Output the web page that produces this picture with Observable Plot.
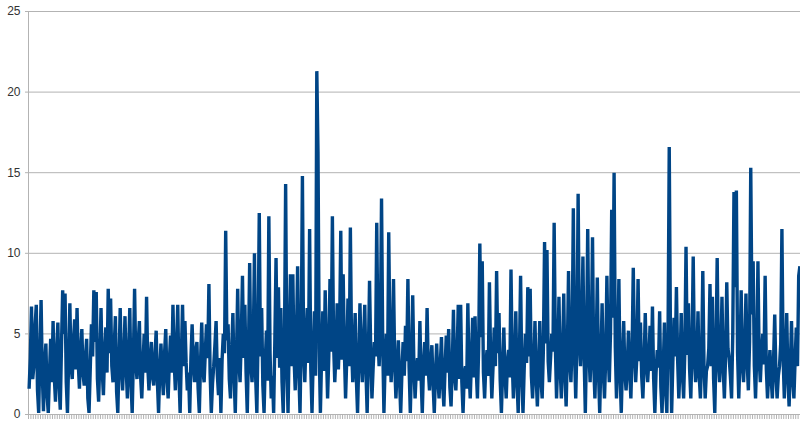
<!DOCTYPE html>
<html>
<head>
<meta charset="utf-8">
<script src="https://cdn.jsdelivr.net/npm/d3@7"></script>
<script src="https://cdn.jsdelivr.net/npm/@observablehq/plot@0.6"></script>
<style>
  html, body { margin: 0; padding: 0; background: #fff; }
  #chart { width: 800px; height: 421px; }
</style>
</head>
<body>
<div id="chart"></div>
<script>
// Series values (one value per category, left to right)
const values = [
  1.6, 3.5, 6.7, 2.2, 3.0, 5.5, 6.8, 1.5, 0.1, 3.8, 7.1, 2.5, 0.2, 3.2, 4.4, 1.2, 0.1, 2.6, 4.7, 2.0,
  5.8, 2.4, 0.8, 3.9, 5.7, 1.8, 0.3, 4.2, 7.7, 5.0, 7.5, 2.0, 0.1, 3.4, 6.9, 3.0, 2.2, 4.5, 5.9, 2.8,
  6.6, 3.2, 1.6, 4.0, 5.3, 2.5, 1.8, 3.5, 4.7, 1.0, 0.1, 2.8, 5.6, 3.6, 7.7, 4.5, 7.6, 2.2, 0.8, 3.4,
  6.6, 2.7, 1.2, 3.9, 5.4, 2.6, 7.8, 3.8, 7.2, 3.0, 2.0, 4.2, 6.1, 1.4, 0.1, 3.3, 6.6, 2.9, 1.5, 3.6,
  6.1, 2.8, 1.0, 3.7, 6.6, 2.0, 0.1, 3.5, 7.8, 3.2, 2.2, 4.4, 5.8, 2.4, 1.0, 3.1, 5.0, 2.6, 7.3, 3.0,
  1.5, 3.4, 4.5, 2.3, 1.8, 3.6, 5.2, 2.1, 0.1, 2.7, 4.4, 2.5, 1.2, 3.8, 5.3, 2.2, 1.0, 3.3, 4.9, 2.6,
  6.8, 3.4, 1.5, 4.1, 6.8, 2.4, 0.1, 3.6, 6.8, 3.0, 5.8, 3.2, 1.5, 2.6, 0.1, 3.5, 5.6, 3.1, 2.0, 4.0,
  4.5, 1.6, 0.1, 3.2, 5.7, 2.8, 2.0, 3.9, 5.6, 3.5, 8.1, 2.6, 0.1, 1.9, 3.0, 4.3, 5.8, 2.5, 1.2, 3.5,
  0.1, 3.4, 5.0, 3.8, 11.4, 4.6, 5.6, 2.2, 1.0, 3.9, 6.3, 2.4, 0.1, 3.6, 7.8, 3.3, 2.0, 4.8, 8.6, 3.5,
  6.8, 2.6, 0.1, 4.0, 9.4, 3.1, 2.0, 4.4, 10.0, 2.3, 0.1, 4.9, 12.5, 3.6, 6.6, 1.8, 0.1, 3.3, 5.2, 2.1,
  12.3, 3.8, 1.0, 2.4, 0.1, 4.6, 9.7, 3.5, 7.9, 2.9, 6.6, 2.0, 0.1, 4.2, 14.3, 3.4, 0.1, 4.6, 8.7, 3.0,
  8.7, 3.6, 1.5, 4.5, 9.2, 2.6, 0.1, 4.8, 14.8, 3.9, 2.0, 4.7, 6.6, 3.2, 11.5, 2.8, 0.1, 3.5, 6.4, 2.4,
  21.3, 16.3, 4.1, 0.1, 3.6, 6.4, 2.7, 7.7, 4.0, 1.0, 3.6, 8.4, 3.9, 12.3, 4.4, 2.0, 3.8, 6.9, 2.8, 5.0,
  11.4, 3.4, 8.7, 3.9, 1.0, 3.5, 7.2, 3.0, 11.6, 4.2, 2.0, 4.0, 6.3, 2.2, 0.1, 3.3, 6.9, 3.7, 2.0, 4.5,
  6.8, 2.7, 0.1, 3.6, 8.3, 3.8, 1.0, 2.9, 4.5, 3.6, 11.9, 4.7, 3.0, 5.1, 13.4, 4.3, 0.1, 3.2, 5.0, 2.4,
  11.3, 4.6, 2.0, 3.9, 8.4, 3.1, 1.0, 2.8, 4.6, 2.2, 0.1, 2.6, 4.5, 2.4, 5.5, 3.3, 8.4, 2.9, 0.1, 3.1,
  7.4, 3.0, 1.0, 2.7, 3.5, 2.1, 5.8, 2.3, 0.1, 3.0, 4.5, 2.4, 6.6, 2.8, 1.5, 3.2, 4.3, 1.9, 0.1, 2.5,
  4.4, 2.2, 1.0, 3.1, 4.8, 1.8, 0.5, 2.9, 4.9, 2.6, 5.3, 1.7, 0.5, 3.0, 6.5, 2.4, 1.5, 3.6, 6.8, 2.2,
  6.8, 2.0, 0.1, 2.5, 3.0, 1.6, 6.9, 2.7, 1.0, 3.4, 6.0, 2.3, 6.1, 2.8, 1.0, 4.1, 10.6, 4.8, 9.5, 2.6,
  1.0, 3.1, 4.0, 2.4, 8.2, 3.5, 1.0, 2.9, 5.4, 3.0, 8.9, 3.8, 6.3, 2.1, 0.1, 2.7, 5.4, 2.5, 1.0, 3.2,
  4.0, 2.3, 9.0, 3.4, 1.0, 3.0, 6.4, 2.1, 0.1, 3.5, 8.6, 2.6, 0.1, 2.8, 5.0, 3.2, 7.9, 3.6, 7.8, 2.4,
  1.0, 3.0, 5.8, 2.3, 0.5, 2.8, 5.8, 2.2, 1.0, 4.0, 10.7, 4.4, 10.2, 3.3, 2.0, 3.5, 5.0, 3.9, 11.9, 4.3,
  1.0, 3.4, 7.3, 2.9, 1.0, 3.6, 7.5, 2.5, 0.5, 3.9, 8.9, 3.3, 2.0, 4.6, 12.8, 3.8, 1.0, 4.4, 13.7, 4.9,
  3.0, 5.2, 9.8, 3.6, 0.1, 4.3, 11.5, 4.0, 2.0, 4.7, 11.0, 3.1, 1.0, 3.8, 8.5, 2.6, 0.1, 3.4, 6.9, 2.7,
  1.0, 3.5, 8.6, 3.9, 2.0, 5.1, 12.7, 6.0, 15.0, 4.2, 1.0, 3.9, 8.4, 2.4, 0.1, 3.3, 5.8, 2.6, 1.5, 3.0,
  5.2, 2.6, 1.0, 3.8, 9.1, 4.0, 2.0, 3.6, 8.4, 3.3, 5.7, 2.4, 1.0, 3.1, 6.3, 3.2, 2.0, 3.4, 5.5, 2.7,
  6.7, 2.2, 0.1, 2.6, 4.0, 2.9, 6.4, 1.7, 0.1, 2.9, 5.7, 1.5, 0.1, 4.8, 16.6, 5.0, 0.1, 3.2, 6.0, 3.6,
  7.9, 3.4, 1.0, 3.0, 6.3, 2.6, 1.0, 3.9, 10.4, 3.7, 6.9, 2.8, 1.0, 4.1, 9.8, 3.6, 2.0, 3.3, 6.4, 2.4,
  1.0, 3.5, 8.9, 3.1, 1.0, 2.7, 3.0, 4.1, 8.1, 3.0, 7.3, 2.2, 0.1, 4.0, 9.7, 3.4, 2.0, 3.8, 7.3, 2.9,
  1.0, 3.6, 8.2, 4.1, 3.5, 2.4, 1.0, 5.0, 13.8, 7.9, 13.9, 3.8, 1.0, 3.5, 7.7, 3.2, 2.0, 4.0, 7.5, 3.3,
  1.5, 4.5, 15.3, 6.2, 9.5, 3.0, 1.0, 3.7, 9.5, 3.5, 2.0, 3.9, 5.0, 3.1, 8.6, 2.8, 1.0, 2.6, 4.0, 2.3,
  1.0, 3.3, 6.2, 2.5, 1.0, 2.4, 3.0, 4.4, 11.5, 3.6, 1.0, 3.5, 6.3, 2.3, 0.5, 2.9, 5.8, 2.2, 1.0, 3.4,
  5.4, 3.0, 8.6, 9.2
];

// Y axis tick labels
const yTicks = [0, 5, 10, 15, 20, 25];

const N = values.length;
const categories = d3.range(N);
const tickBounds = d3.range(0, N + 1, 2).map(i => i - 0.5);

const chart = Plot.plot({
  width: 800,
  height: 421,
  marginLeft: 28,
  marginRight: 0,
  marginTop: 11,
  marginBottom: 7,
  style: { fontFamily: "'Liberation Sans', Arial, sans-serif", background: "#fff" },
  x: { domain: [-0.5, N - 0.5], axis: null },
  y: { domain: [0, 25], axis: null },
  marks: [
    Plot.gridY(yTicks, { stroke: "#b3b3b3", strokeOpacity: 1 }),
    Plot.axisY(yTicks, {
      tickSize: 3, tickPadding: 5, stroke: "#b3b3b3", fill: "#333",
      fontSize: 12, label: null
    }),
    Plot.axisX(tickBounds, {
      tickSize: 5, tickFormat: () => "", stroke: "#b3b3b3", label: null
    }),
    Plot.ruleX([-0.5], { stroke: "#b3b3b3" }),
    Plot.lineY(values, {
      x: categories, y: values,
      stroke: "#004586", strokeWidth: 3.4, strokeLinejoin: "bevel", strokeLinecap: "butt"
    })
  ]
});

document.getElementById("chart").appendChild(chart);
</script>
</body>
</html>
